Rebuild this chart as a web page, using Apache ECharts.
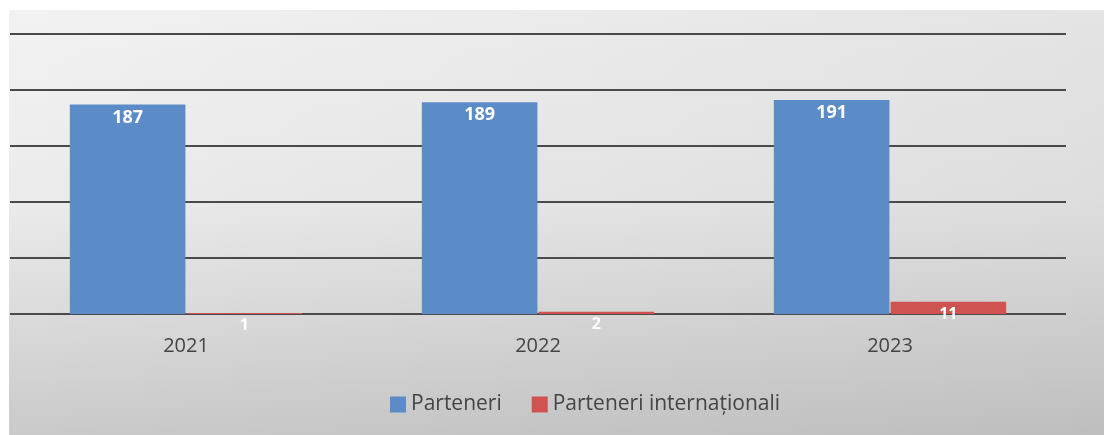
<!DOCTYPE html>
<html>
<head>
<meta charset="utf-8">
<script src="https://cdn.jsdelivr.net/npm/echarts@6/dist/echarts.min.js"></script>
<style>
html,body{margin:0;padding:0;background:#fff;}
#c{width:1104px;height:435px;}
</style>
</head>
<body>
<div id="c"></div>
<script>
const categories = ['2021', '2022', '2023'];
const parteneri = [187, 189, 191];
const parteneriInternationali = [1, 2, 11];
const seriesNames = ['Parteneri', 'Parteneri internaționali'];

const chart = echarts.init(document.getElementById('c'), null, {renderer: 'canvas'});
const font = '"Open Sans", "Noto Sans", sans-serif';
chart.setOption({
  animation: false,
  backgroundColor: '#ffffff',
  graphic: [{
    type: 'rect',
    left: 9, top: 10, z: -10,
    shape: {width: 1095, height: 425},
    style: {
      fill: new echarts.graphic.LinearGradient(0, 0, 0, 1, [
        {offset: 0, color: '#f2f2f2'},
        {offset: 0.45, color: '#ebebeb'},
        {offset: 1, color: '#cacaca'}
      ])
    },
    silent: true
  }, {
    type: 'rect',
    left: 9, top: 10, z: -9,
    shape: {width: 1095, height: 425},
    style: {
      fill: new echarts.graphic.LinearGradient(0, 0, 1, 0, [
        {offset: 0, color: 'rgba(0,0,0,0)'},
        {offset: 1, color: 'rgba(0,0,0,0.06)'}
      ])
    },
    silent: true
  }],
  grid: {left: 10, right: 38, top: 34, bottom: 121, containLabel: false},
  legend: {
    data: seriesNames,
    bottom: 15,
    left: 385,
    itemWidth: 16, itemHeight: 16, itemGap: 30,
    icon: 'rect',
    textStyle: {fontFamily: font, fontSize: 21, color: '#444'}
  },
  xAxis: {
    type: 'category',
    data: categories,
    axisLine: {show: false},
    axisTick: {show: false},
    axisLabel: {fontFamily: font, fontSize: 20, color: '#444', margin: 22}
  },
  yAxis: {
    type: 'value',
    min: 0, max: 250, interval: 50,
    axisLine: {show: false},
    axisTick: {show: false},
    axisLabel: {show: false},
    splitLine: {lineStyle: {color: '#4a4a4a', width: 2}}
  },
  series: [{
    name: seriesNames[0],
    type: 'bar',
    data: parteneri,
    barGap: '1%',
    barCategoryGap: '34%',
    itemStyle: {color: '#5b8cc8'},
    label: {show: true, position: 'insideTop', distance: 4, color: '#fff', fontWeight: 'bold', fontFamily: font, fontSize: 18}
  }, {
    name: seriesNames[1],
    type: 'bar',
    data: parteneriInternationali,
    itemStyle: {color: '#cf5350'},
    label: {show: true, position: 'insideTop', distance: 5, color: '#fff', fontWeight: 'bold', fontFamily: font, fontSize: 16}
  }]
});
</script>
</body>
</html>
